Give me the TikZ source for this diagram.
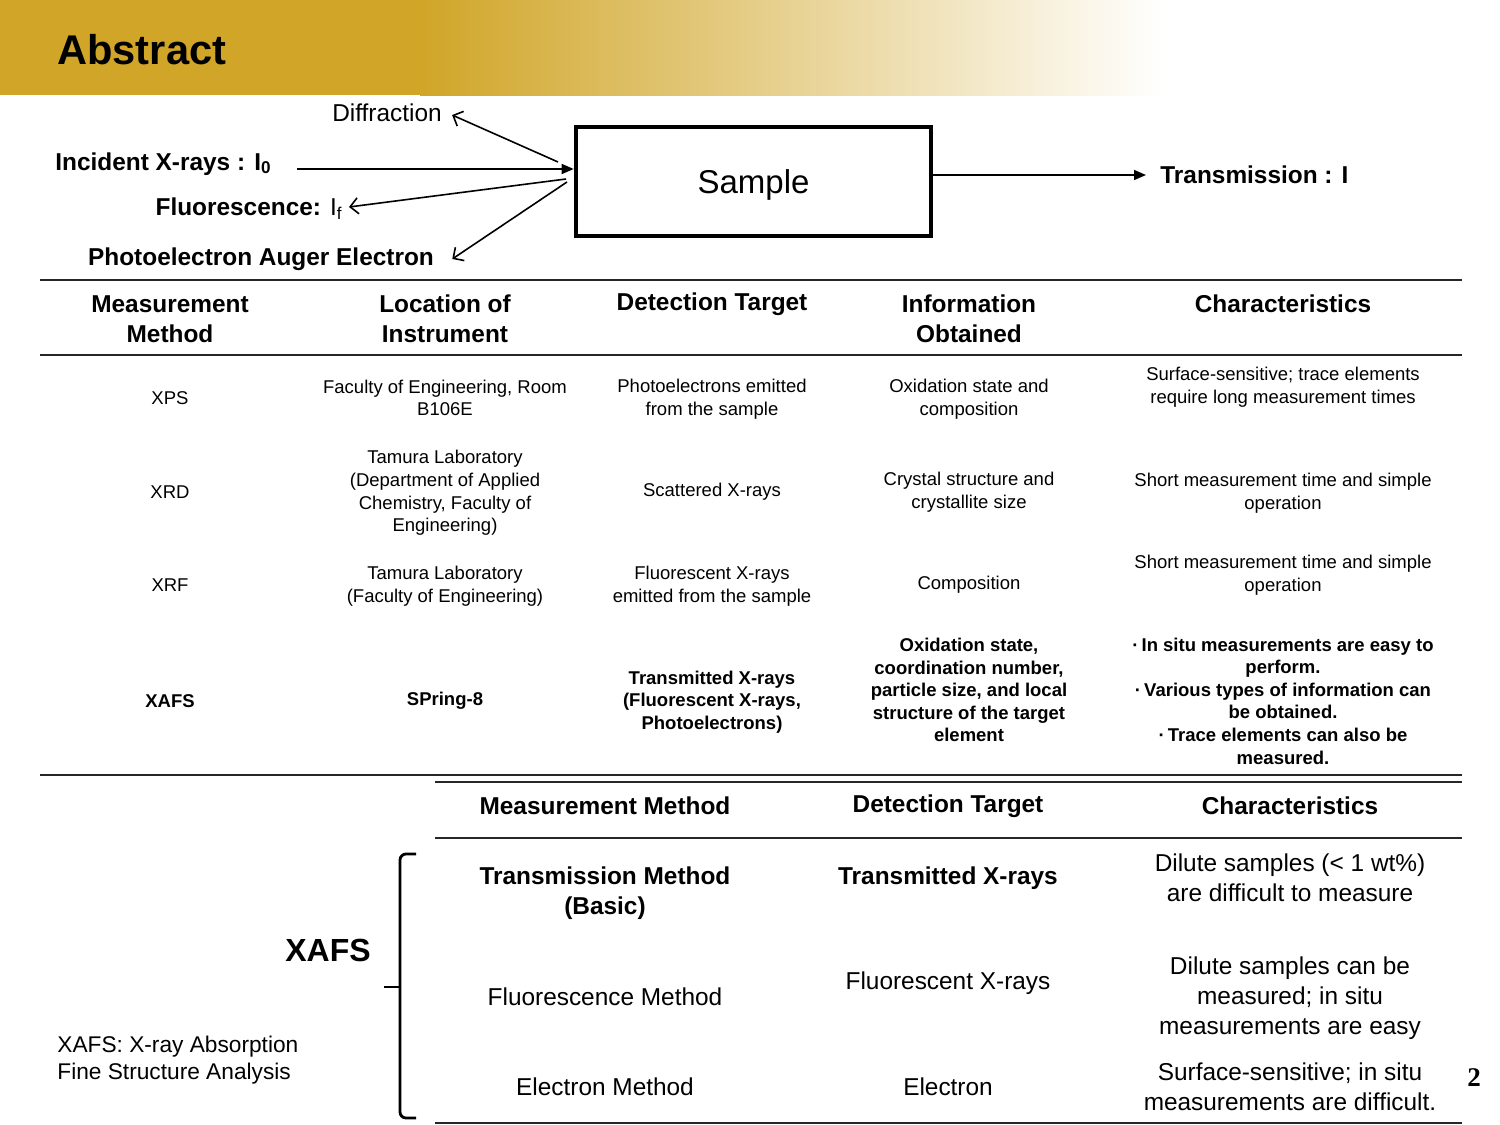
\documentclass[tikz,border=0pt]{standalone}
\usepackage{fontspec}
\setmainfont{Liberation Sans}
\newfontfamily\pagenumfont{Liberation Serif}
\usetikzlibrary{arrows.meta, positioning}

\definecolor{bannergold}{RGB}{208,165,40}
\newcommand\tabcellfont{\fontsize{9.25}{11.3}\selectfont}
\newcommand\tabheadfont{\fontsize{12.2}{15}\selectfont\bfseries}
\newcommand\lowcellfont{\fontsize{12.2}{15}\selectfont}
\newcommand\beamfont{\fontsize{12.2}{15}\selectfont}

\begin{document}
\begin{tikzpicture}[
    x=0.5pt, y=-0.5pt,
    head/.style={font=\tabheadfont, align=center, inner sep=0},
    cell/.style={font=\tabcellfont, align=center, inner sep=0},
    boldcell/.style={cell, font=\tabcellfont\bfseries},
    lowcell/.style={font=\lowcellfont, align=center, inner sep=0},
    lowbold/.style={lowcell, font=\lowcellfont\bfseries},
    beam/.style={font=\beamfont, inner sep=0},
    beambold/.style={beam, font=\beamfont\bfseries},
    rule/.style={line width=1.2pt, black!85},
    arrow/.style={-{Triangle[length=6pt,width=5pt]}, line width=0.8pt},
    openarrow/.style={-{Straight Barb[length=4pt,width=8pt]}, line width=0.8pt}
]
\useasboundingbox (0,0) rectangle (1500,1125);

% Banner
\fill[bannergold] (0,0) rectangle (421,95);
\shade[left color=bannergold, right color=white] (420,0) rectangle (1165,95);
\node[font=\fontsize{20.8}{24}\selectfont\bfseries, anchor=west, inner sep=0] (title) at (57,50) {Abstract};

% Sample and beams
\node[draw, line width=2.3pt, minimum width=177.5pt, minimum height=54.5pt, text depth=0pt, font=\fontsize{16.5}{20}\selectfont] (sample) at (753.5,181.5) {Sample};

\node[beambold, anchor=west] (incident) at (55,164) {Incident X-rays : I\textsubscript{0}};
\node[beam] (diffraction) at (387,113) {Diffraction};
\node[beam, anchor=east] (fluor) at (343,209) {\textbf{Fluorescence:} I\textsubscript{f}};
\node[beambold] (photo) at (261,259) {Photoelectron Auger Electron};
\node[beambold, anchor=west] (transmission) at (1160,175) {Transmission : I};

\coordinate (incStart) at (297,169);
\coordinate (diffStart) at (558,162);
\coordinate (fluorStart) at (566,179);
\coordinate (photoStart) at (567,182);

\draw[arrow] (incStart) -- (incStart -| sample.west);
\draw[openarrow] (diffStart) -- ([xshift=5pt,yshift=-1pt]diffraction.east);
\draw[openarrow] (fluorStart) -- ([xshift=3pt,yshift=1pt]fluor.east);
\draw[openarrow] (photoStart) -- ([xshift=9pt]photo.east);
\draw[arrow] (sample.east |- transmission.west) -- ([xshift=-7pt]transmission.west);

% Upper table
\draw[rule] (40,280) -- (1462,280);
\draw[rule] (40,355) -- (1462,355);
\draw[rule] (40,775) -- (1462,775);

\node[head] (hMethod) at (170,319) {Measurement\\Method};
\node[head] (hLocation) at (445,319) {Location of\\Instrument};
\node[head] (hTarget) at (712,304) {Detection Target};
\node[head] (hInfo) at (969,319) {Information\\Obtained};
\node[head] (hChar) at (1283,304) {Characteristics};

% Row: XPS
\node[cell] (xpsM) at (170,398) {XPS};
\node[cell] (xpsL) at (445,398) {Faculty of Engineering, Room\\B106E};
\node[cell] (xpsD) at (712,399) {Photoelectrons emitted\\from the sample};
\node[cell] (xpsI) at (969,399) {Oxidation state and\\composition};
\node[cell] (xpsC) at (1283,387) {Surface-sensitive; trace elements\\require long measurement times};

% Row: XRD
\node[cell] (xrdM) at (170,492) {XRD};
\node[cell] (xrdL) at (445,493) {Tamura Laboratory\\(Department of Applied\\Chemistry, Faculty of\\Engineering)};
\node[cell] (xrdD) at (712,492) {Scattered X-rays};
\node[cell] (xrdI) at (969,492) {Crystal structure and\\crystallite size};
\node[cell] (xrdC) at (1283,493) {Short measurement time and simple\\operation};

% Row: XRF
\node[cell] (xrfM) at (170,585) {XRF};
\node[cell] (xrfL) at (445,586) {Tamura Laboratory\\(Faculty of Engineering)};
\node[cell] (xrfD) at (712,586) {Fluorescent X-rays\\emitted from the sample};
\node[cell] (xrfI) at (969,585) {Composition};
\node[cell] (xrfC) at (1283,575) {Short measurement time and simple\\operation};

% Row: XAFS
\node[boldcell] (xafsM) at (170,701) {XAFS};
\node[boldcell] (xafsL) at (445,701) {SPring-8};
\node[boldcell] (xafsD) at (712,702) {Transmitted X-rays\\(Fluorescent X-rays,\\Photoelectrons)};
\node[boldcell] (xafsI) at (969,690) {Oxidation state,\\coordination number,\\particle size, and local\\structure of the target\\element};
\node[boldcell] (xafsC) at (1283,701) {·\,In situ measurements are easy to\\perform.\\·\,Various types of information can\\be obtained.\\·\,Trace elements can also be\\measured.};

% Lower table
\draw[rule] (435,782) -- (1462,782);
\draw[rule] (435,838) -- (1462,838);
\draw[rule] (435,1123) -- (1462,1123);

\node[lowbold] (lhMethod) at (605,806) {Measurement Method};
\node[lowbold] (lhTarget) at (948,806) {Detection Target};
\node[lowbold] (lhChar) at (1290,806) {Characteristics};

\node[lowbold] (transM) at (605,893) {Transmission Method\\(Basic)};
\node[lowbold] (transD) at (948,878) {Transmitted X-rays};
\node[lowcell] (transC) at (1290,878) {Dilute samples (< 1 wt\%)\\are difficult to measure};

\node[lowcell] (fluoM) at (605,997) {Fluorescence Method};
\node[lowcell] (fluoD) at (948,983) {Fluorescent X-rays};
\node[lowcell] (fluoC) at (1290,998) {Dilute samples can be\\measured; in situ\\measurements are easy};

\node[lowcell] (elecM) at (605,1087) {Electron Method};
\node[lowcell] (elecD) at (948,1087) {Electron};
\node[lowcell] (elecC) at (1290,1087) {Surface-sensitive; in situ\\measurements are difficult.};

% Brace and XAFS label
\draw[line width=1.4pt, rounded corners=3pt] (416,854) -- (400,854) -- (400,1118) -- (416,1118);
\draw[line width=1.4pt] (384,987) -- (400,987);
\node[font=\fontsize{16}{19}\selectfont\bfseries, inner sep=0] (xafsBig) at (328,950) {XAFS};
\node[font=\fontsize{11.35}{13.5}\selectfont, align=left, anchor=west, inner sep=0] (xafsNote) at (57,1060) {XAFS: X-ray Absorption\\Fine Structure Analysis};

\node[font=\pagenumfont\fontsize{13.5}{16}\selectfont\bfseries, inner sep=0] (pagenum) at (1474,1078) {2};

\end{tikzpicture}
\end{document}
